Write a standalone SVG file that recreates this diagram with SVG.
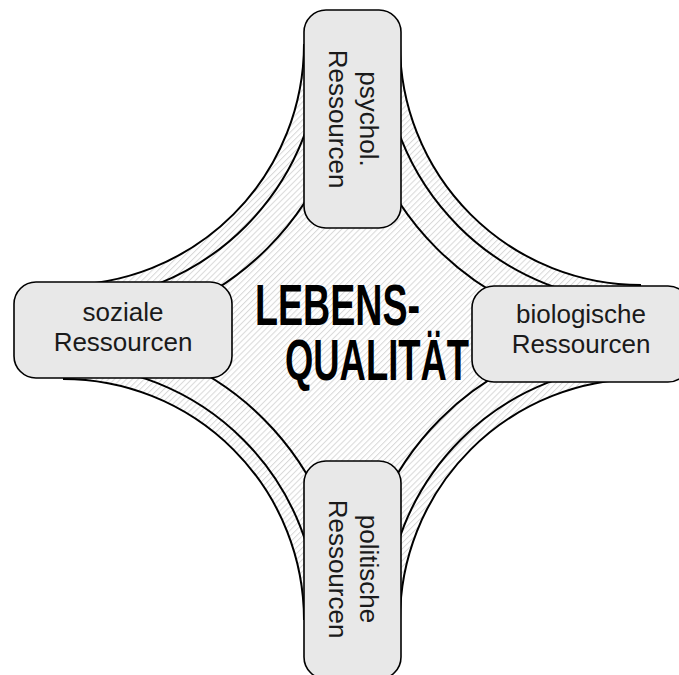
<svg xmlns="http://www.w3.org/2000/svg" width="679" height="675" viewBox="0 0 679 675">
  <style>
    .arc { fill: none; stroke: #000; stroke-width: 2; }
    .box { fill: #e8e8e8; stroke: #000; stroke-width: 1.6; }
    .lbl { font-family: "Liberation Sans", Arial, sans-serif; font-size: 26px; fill: #1a1a1a; text-anchor: middle; }
    .title { font-family: "Liberation Sans", Arial, sans-serif; font-size: 58px; font-weight: bold; fill: #000; }
  </style>
  <defs>
    <pattern id="hatch" patternUnits="userSpaceOnUse" width="4.2" height="4.2" patternTransform="rotate(45)">
      <rect x="0" y="0" width="4.2" height="4.2" fill="#ffffff"/>
      <rect x="0" y="0" width="1" height="4.2" fill="#d8d8d8"/>
    </pattern>
  </defs>
  <rect x="0" y="0" width="679" height="675" fill="#ffffff"/>

  <g id="background">
    <path d="M 304 44 L 400 44 A 241 241 0 0 0 641 285 L 641 379 A 241 241 0 0 0 400 620 L 304 620 A 241 241 0 0 0 63 379 L 63 285 A 241 241 0 0 0 304 44 Z" fill="url(#hatch)"/>
  </g>

  <g id="connectors">
    <path class="arc" d="M 304 44 A 241 241 0 0 1 63 285"/>
    <path class="arc" d="M 321 44 A 258 258 0 0 1 63 302"/>
    <path class="arc" d="M 352 44 A 289 289 0 0 1 63 333"/>

    <path class="arc" d="M 400 44 A 241 241 0 0 0 641 285"/>
    <path class="arc" d="M 383 44 A 258 258 0 0 0 641 302"/>
    <path class="arc" d="M 352 44 A 289 289 0 0 0 641 333"/>

    <path class="arc" d="M 63 379 A 241 241 0 0 1 304 620"/>
    <path class="arc" d="M 63 365 A 255 255 0 0 1 318 620"/>
    <path class="arc" d="M 63 336 A 284 284 0 0 1 347 620"/>

    <path class="arc" d="M 641 379 A 241 241 0 0 0 400 620"/>
    <path class="arc" d="M 641 365 A 255 255 0 0 0 386 620"/>
    <path class="arc" d="M 641 336 A 284 284 0 0 0 357 620"/>
  </g>

  <g id="center-title">
    <text class="title" x="255" y="325" textLength="165" lengthAdjust="spacingAndGlyphs">LEBENS-</text>
    <text class="title" x="285" y="380" textLength="184" lengthAdjust="spacingAndGlyphs">QUALITÄT</text>
  </g>

  <g id="node-psychol">
    <rect class="box" x="304" y="10" width="97" height="218" rx="22" ry="22"/>
    <text class="lbl" transform="translate(360,119) rotate(90)">psychol.</text>
    <text class="lbl" transform="translate(329,119) rotate(90)">Ressourcen</text>
  </g>

  <g id="node-sozial">
    <rect class="box" x="14" y="282" width="218" height="96" rx="22" ry="22"/>
    <text class="lbl" x="123" y="321">soziale</text>
    <text class="lbl" x="123" y="351">Ressourcen</text>
  </g>

  <g id="node-biologisch">
    <rect class="box" x="472" y="286" width="218" height="96" rx="22" ry="22"/>
    <text class="lbl" x="581" y="323">biologische</text>
    <text class="lbl" x="581" y="353">Ressourcen</text>
  </g>

  <g id="node-politisch">
    <rect class="box" x="304" y="461" width="97" height="218" rx="22" ry="22"/>
    <text class="lbl" transform="translate(360,569) rotate(90)">politische</text>
    <text class="lbl" transform="translate(329,569) rotate(90)">Ressourcen</text>
  </g>
</svg>
